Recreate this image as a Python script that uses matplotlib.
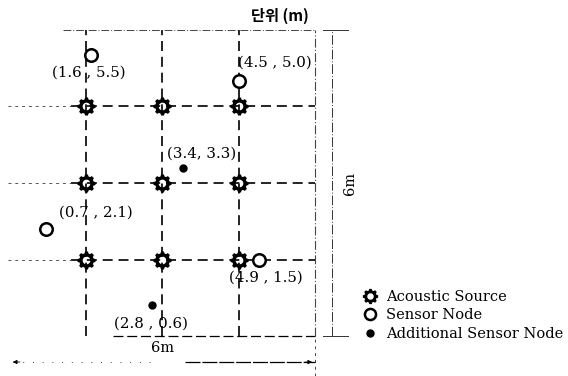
import numpy as np
from matplotlib import pyplot as plt
from matplotlib.lines import Line2D
from matplotlib.path import Path

plt.rcParams['font.family'] = ['DejaVu Serif']

# room 6m x 6m, sources on a 1.5m grid
room = 6.0
grid = [1.5, 3.0, 4.5]

sensor_x = [1.6, 4.5, 0.7, 4.9]
sensor_y = [5.5, 5.0, 2.1, 1.5]
sensor_labels = ["(1.6 , 5.5)", "(4.5 , 5.0)", "(0.7 , 2.1)", "(4.9 , 1.5)"]

extra_x = [3.4, 2.8]
extra_y = [3.3, 0.6]
extra_labels = ["(3.4, 3.3)", "(2.8 , 0.6)"]

# label offsets in pixels
sensor_off = [(-3, -17), (36, 18), (50, 16), (7, -18)]
extra_off = [(19, 14), (-1, -18)]


def gear_marker(n=8, r_out=1.0, r_in=0.8, r_hole=0.42):
    verts = []
    step = 2 * np.pi / n
    for k in range(n):
        a = k * step
        verts += [(r_in * np.cos(a - step * 0.36), r_in * np.sin(a - step * 0.36)),
                  (r_out * np.cos(a - step * 0.2), r_out * np.sin(a - step * 0.2)),
                  (r_out * np.cos(a + step * 0.2), r_out * np.sin(a + step * 0.2)),
                  (r_in * np.cos(a + step * 0.36), r_in * np.sin(a + step * 0.36))]
    verts.append(verts[0])
    codes = [Path.MOVETO] + [Path.LINETO] * (len(verts) - 2) + [Path.CLOSEPOLY]
    t = np.linspace(0, -2 * np.pi, 33)
    hole = list(zip(r_hole * np.cos(t), r_hole * np.sin(t)))
    hcodes = [Path.MOVETO] + [Path.LINETO] * (len(hole) - 2) + [Path.CLOSEPOLY]
    return Path(verts + hole, codes + hcodes)


gear = gear_marker()

fig = plt.figure(figsize=(5.68, 3.76), dpi=100)
ax = fig.add_axes([0, 0, 1, 1])
ax.set_xlim(-0.197, 10.98)
ax.set_ylim(-0.784, 6.588)
ax.axis("off")

dash = dict(color="black", lw=1.2, dashes=(6, 3.5))
light = dict(color="#555555", lw=0.7, dashes=(3, 4))

# grid lines
for g in grid:
    ax.plot([g, g], [0, room], **dash)
    ax.plot([1.2, room], [g, g], **dash)
    ax.plot([-0.04, 1.2], [g, g], **light)

# room boundary
ax.plot([1.04, room], [room, room], color="#444444", lw=0.7, dashes=(8, 2, 1, 2))
ax.plot([room, room], [0, room], color="#444444", lw=0.8, dashes=(8, 2, 1, 2))
ax.plot([2.03, room], [0, 0], color="black", lw=0.9, dashes=(8, 3))
ax.plot([room, room], [-0.784, 0], color="#444444", lw=0.7, dashes=(3, 4))

# vertical dimension
ax.plot([6.34, 6.34], [0, room], color="#333333", lw=0.7, dashes=(10, 2, 1, 2))
ax.plot([6.16, 6.65], [room, room], color="#333333", lw=0.7)
ax.plot([6.16, 6.65], [0, 0], color="#333333", lw=0.7)
ax.text(6.69, 3.0, "6m", rotation=90, ha="center", va="center", fontsize=10.5)

# horizontal dimension
ax.plot([0.05, 2.8], [-0.51, -0.51], color="#444444", lw=0.7, dashes=(1, 9))
ax.plot([3.45, room], [-0.51, -0.51], color="black", lw=0.9, dashes=(12, 1.5))
ax.annotate("", xy=(0.0, -0.51), xytext=(0.25, -0.51),
            arrowprops=dict(arrowstyle="-|>", color="black", lw=0.6, mutation_scale=6))
ax.annotate("", xy=(room, -0.51), xytext=(room - 0.25, -0.51),
            arrowprops=dict(arrowstyle="-|>", color="black", lw=0.6, mutation_scale=6))
ax.text(3.0, -0.235, "6m", ha="center", va="center", fontsize=10.5)

ax.text(5.31, 6.27, "단위 (m)", ha="center", va="center", fontsize=11,
        fontweight="bold", family=["Noto Sans CJK KR", "DejaVu Sans"])

# acoustic sources
gx, gy = np.meshgrid(grid, grid)
ax.plot(gx.ravel(), gy.ravel(), linestyle="none", marker=gear, markersize=13,
        color="black", markeredgewidth=0, zorder=5)

# sensor nodes
ax.plot(sensor_x, sensor_y, linestyle="none", marker="o", markersize=9,
        markerfacecolor="white", markeredgecolor="black", markeredgewidth=1.8, zorder=5)
for x, y, s, off in zip(sensor_x, sensor_y, sensor_labels, sensor_off):
    ax.annotate(s, (x, y), xytext=off, textcoords="offset pixels",
                ha="center", va="center", fontsize=10.8)

# additional sensor nodes
ax.plot(extra_x, extra_y, linestyle="none", marker="o", markersize=5,
        color="black", zorder=5)
for x, y, s, off in zip(extra_x, extra_y, extra_labels, extra_off):
    ax.annotate(s, (x, y), xytext=off, textcoords="offset pixels",
                ha="center", va="center", fontsize=10.8)

handles = [
    Line2D([], [], linestyle="none", marker=gear, markersize=11,
           color="black", markeredgewidth=0),
    Line2D([], [], linestyle="none", marker="o", markersize=8,
           markerfacecolor="white", markeredgecolor="black", markeredgewidth=1.8),
    Line2D([], [], linestyle="none", marker="o", markersize=5, color="black"),
]
ax.legend(handles, ["Acoustic Source", "Sensor Node", "Additional Sensor Node"],
          loc="upper left", bbox_to_anchor=(363 / 568, 1 - 290 / 376),
          frameon=False, fontsize=10.5, handlelength=1.0, handletextpad=0.6,
          labelspacing=0.3, borderpad=0, borderaxespad=0)

plt.savefig("out.png", dpi=100)
